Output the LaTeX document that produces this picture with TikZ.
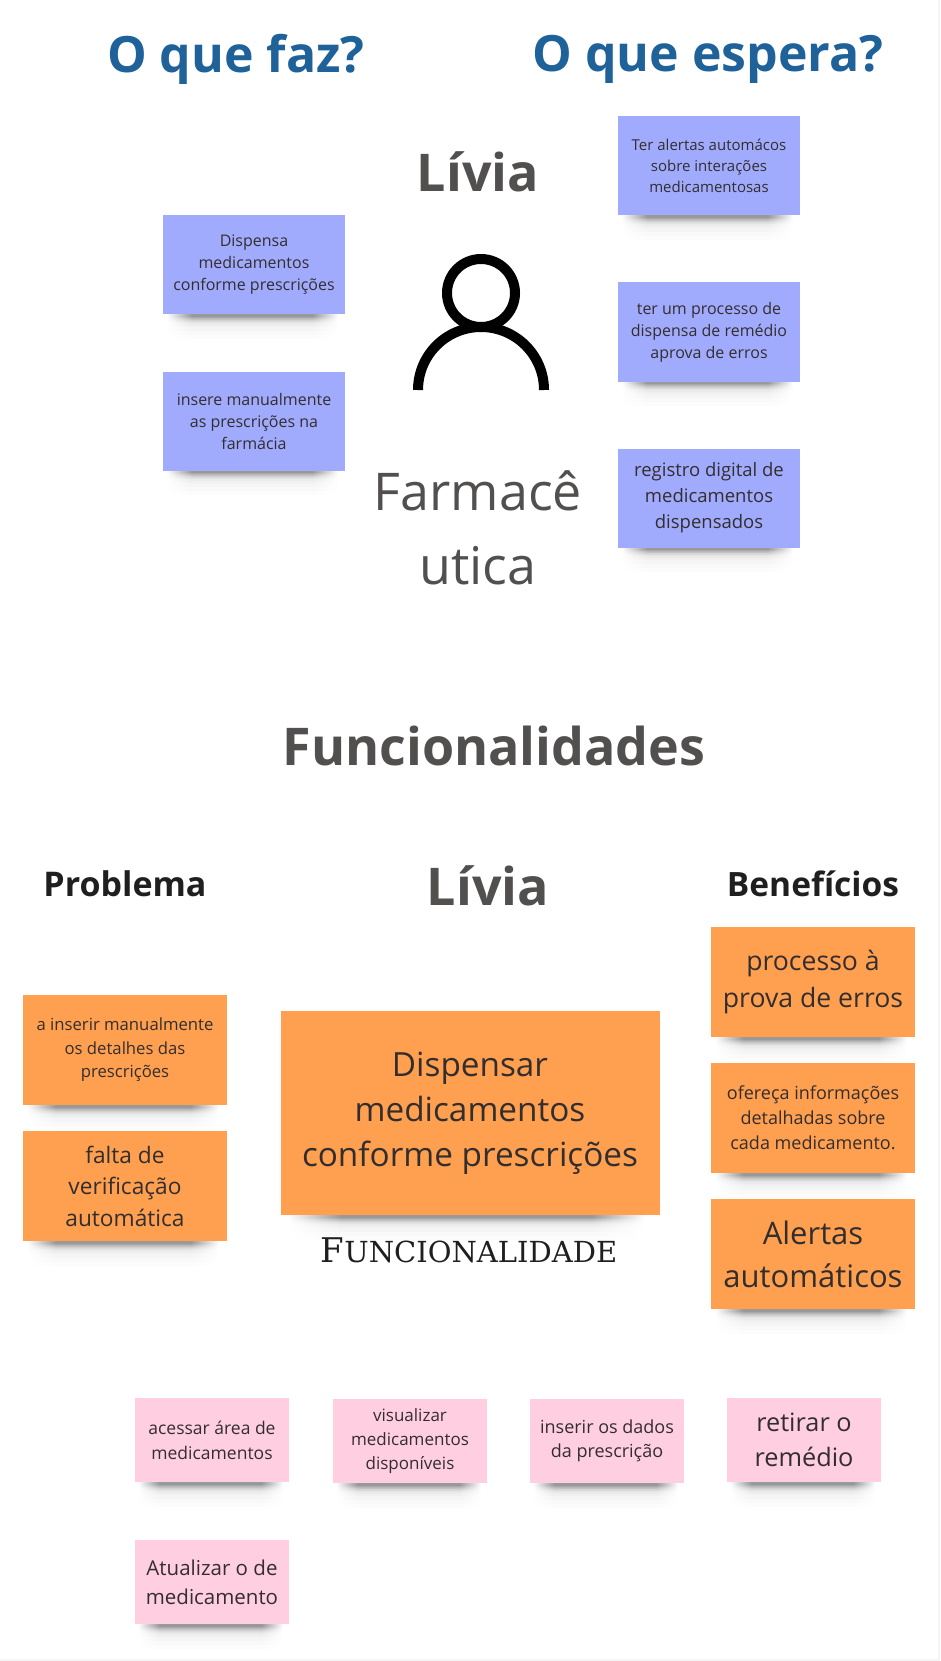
\documentclass[tikz,border=0pt]{standalone}
\usepackage{fontspec}
\setmainfont{Open Sans}
\newfontfamily\slabfont{DejaVu Serif}
\usetikzlibrary{backgrounds,calc}

\definecolor{bluenotecol}{HTML}{A1ABFD}
\definecolor{orangenotecol}{HTML}{FF9F50}
\definecolor{pinknotecol}{HTML}{FFCEE1}
\definecolor{headingblue}{HTML}{1F6299}
\definecolor{headinggrey}{HTML}{524F4F}
\definecolor{notetext}{HTML}{332E2E}
\colorlet{stripcol}{black!50}

% shadow strength across the width of a note
\pgfdeclarehorizontalshading[stripcol]{sideshade}{100bp}{color(0bp)=(white); color(26bp)=(white); color(33bp)=(stripcol); color(66bp)=(stripcol); color(73bp)=(white); color(100bp)=(white)}

\tikzset{
  textsize/.style 2 args={font=\fontsize{#1}{#2}\selectfont},
  note/.style={inner sep=0pt, align=center, text=notetext},
  bluenote/.style={note, fill=bluenotecol, minimum width=182pt, minimum height=99pt},
  orangenote/.style={note, fill=orangenotecol, minimum width=204pt, minimum height=110pt},
  pinknote/.style={note, fill=pinknotecol, minimum width=154pt, minimum height=84pt},
  heading/.style={inner sep=0pt, align=center, font=\fontsize{#1}{#1}\selectfont\bfseries},
}

\begin{document}
\begin{tikzpicture}[x=1pt, y=-1pt]
  \useasboundingbox (0,0) rectangle (940,1661);
  % page edge
  \fill[black!4] (938,0) rectangle (940,1661);
  \fill[black!4] (0,1659) rectangle (940,1661);

  % top headings
  \node[heading=50, text=headingblue] (doesTitle) at (236,59) {O que faz?};
  \node[heading=50, text=headingblue] (expectsTitle) at (708,59) {O que espera?};
  \node[heading=52, text=headinggrey] (personaName) at (478,172) {Lívia};

  % person icon
  \draw[line width=10pt] (481,293) circle [radius=34pt];
  \draw[line width=10pt] (418,390) arc [start angle=180, end angle=0, x radius=63pt, y radius=63pt];

  \node[inner sep=0pt, align=center, text=headinggrey, textsize={52}{74}] (personaRole) at (478,528) {Farmacê\\utica};

  % what the persona does
  \node[bluenote, textsize={16}{22}] (does0) at (254,265) {Dispensa\\medicamentos\\conforme prescrições};
  \node[bluenote, textsize={16}{22}] (does1) at (254,421) {insere manualmente\\as prescrições na\\farmácia};

  % what the persona expects
  \node[bluenote, textsize={15}{21}] (expects0) at (709,166) {Ter alertas automácos\\sobre interações\\medicamentosas};
  \node[bluenote, textsize={16}{22}] (expects1) at (709,332) {ter um processo de\\dispensa de remédio\\aprova de erros};
  \node[bluenote, textsize={18.5}{26}] (expects2) at (709,498) {registro digital de\\medicamentos\\dispensados};

  % feature section headings
  \node[heading=52, text=headinggrey] (featuresTitle) at (494,746) {Funcionalidades};
  \node[heading=34, text=black!88] (problemTitle) at (125,884) {Problema};
  \node[heading=52, text=headinggrey] (featurePersona) at (488,886) {Lívia};
  \node[heading=33.5, text=black!88] (benefitsTitle) at (813,884) {Benefícios};

  % problems
  \node[orangenote, textsize={16.7}{23.5}] (problem0) at (125,1050) {a inserir manualmente\\os detalhes das\\prescrições};
  \node[orangenote, textsize={22.7}{31.5}] (problem1) at (125,1186) {falta de\\verificação\\automática};

  % main feature
  \node[orangenote, minimum width=379pt, minimum height=204pt, textsize={33.3}{45}] (feature) at (470,1113) {Dispensar\\medicamentos\\conforme prescrições};
  \node[inner sep=0pt, text=black!88, font=\slabfont\fontsize{29}{29}\selectfont] (featureLabel) at (469,1250) {{\fontsize{34}{34}\selectfont F}UNCIONALIDADE};

  % benefits
  \node[orangenote, textsize={26.6}{37}] (benefit0) at (813,982) {processo à\\prova de erros};
  \node[orangenote, textsize={18}{25}] (benefit1) at (813,1118) {ofereça informações\\detalhadas sobre\\cada medicamento.};
  \node[orangenote, textsize={31}{43}] (benefit2) at (813,1254) {Alertas\\automáticos};

  % user steps
  \node[pinknote, textsize={17.5}{25}] (step0) at (212,1440) {acessar área de\\medicamentos};
  \node[pinknote, textsize={17}{24}] (step1) at (410,1441) {visualizar\\medicamentos\\disponíveis};
  \node[pinknote, textsize={18}{24}] (step2) at (607,1441) {inserir os dados\\da prescrição};
  \node[pinknote, textsize={25.3}{35}] (step3) at (804,1440) {retirar o\\remédio};
  \node[pinknote, textsize={20.5}{29}] (step4) at (212,1582) {Atualizar o de\\medicamento};

  % soft shadows under the notes, outermost strip first
  \begin{scope}[on background layer]
    \foreach \n in {does0,does1,expects0,expects1,expects2,problem0,problem1,feature,benefit0,benefit1,benefit2,step0,step1,step2,step3,step4}
      \foreach \d/\g in {24/1.2,20/2.5,16/4,12/6,10/8,8/11,7/14,6/18,5/23,4/28,3/34,2/40}{
        \colorlet{stripcol}{black!\g}
        \shade[shading=sideshade] ($(\n.south west)+(0,-2)$) rectangle ($(\n.south east)+(0,\d)$);
      }
  \end{scope}
\end{tikzpicture}
\end{document}
